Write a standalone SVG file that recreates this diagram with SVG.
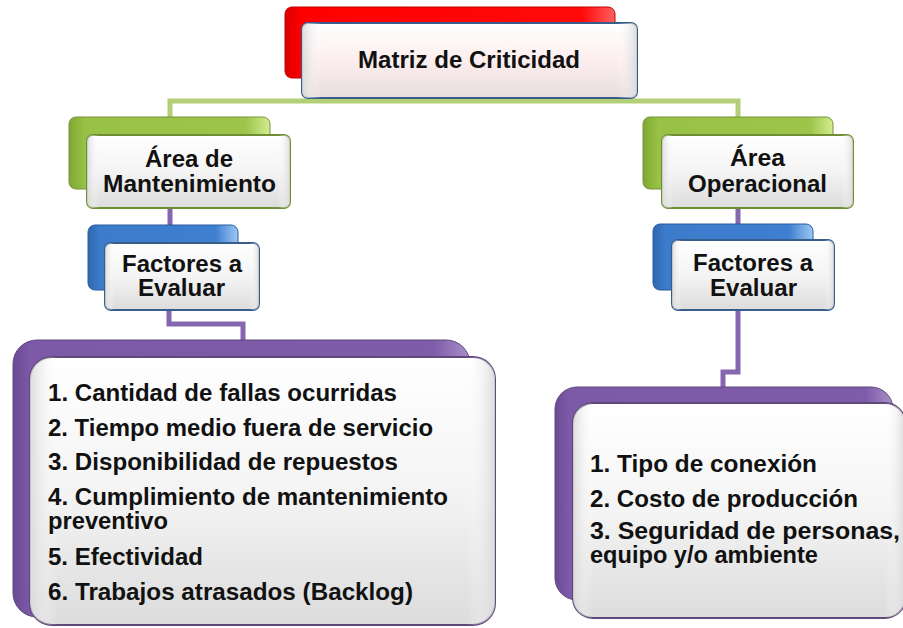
<svg xmlns="http://www.w3.org/2000/svg" width="903" height="628" viewBox="0 0 903 628">
<defs>
<linearGradient id="gRed" x1="0" y1="0" x2="1" y2="0"><stop offset="0" stop-color="#d90000"/><stop offset="0.05" stop-color="#ff0000"/><stop offset="0.9" stop-color="#ff0a0a"/><stop offset="1" stop-color="#ff6060"/></linearGradient>
<linearGradient id="gGreen" x1="0" y1="0" x2="1" y2="0"><stop offset="0" stop-color="#7fa832"/><stop offset="0.08" stop-color="#98c246"/><stop offset="0.88" stop-color="#9cc54a"/><stop offset="1" stop-color="#d4ec90"/></linearGradient>
<linearGradient id="gBlue" x1="0" y1="0" x2="1" y2="0"><stop offset="0" stop-color="#2f67b0"/><stop offset="0.08" stop-color="#3d7bcb"/><stop offset="0.85" stop-color="#3f7fd0"/><stop offset="1" stop-color="#9cc8f2"/></linearGradient>
<linearGradient id="gPurple" x1="0" y1="0" x2="1" y2="0"><stop offset="0" stop-color="#6a4a94"/><stop offset="0.04" stop-color="#7d5aa8"/><stop offset="0.92" stop-color="#7f5ca9"/><stop offset="1" stop-color="#a890c8"/></linearGradient>
<linearGradient id="gFace" x1="0" y1="0" x2="0" y2="1"><stop offset="0" stop-color="#ffffff"/><stop offset="0.5" stop-color="#f4f4f4"/><stop offset="1" stop-color="#dcdcdc"/></linearGradient>
<linearGradient id="gFaceSide" x1="0" y1="0" x2="1" y2="0"><stop offset="0" stop-color="#d8d8d8" stop-opacity="0.9"/><stop offset="0.06" stop-color="#ffffff" stop-opacity="0"/><stop offset="0.94" stop-color="#ffffff" stop-opacity="0"/><stop offset="1" stop-color="#d8d8d8" stop-opacity="0.9"/></linearGradient>
<linearGradient id="gPink" x1="0" y1="0" x2="0" y2="1"><stop offset="0" stop-color="#ffffff"/><stop offset="0.5" stop-color="#fdeeee"/><stop offset="1" stop-color="#e8dcdc"/></linearGradient>
</defs>
<style>
.t{font-family:"Liberation Sans",Arial,sans-serif;font-weight:bold;fill:#111;}
.c{font-size:23px;}
.l{font-size:23px;}
.conG{fill:none;stroke:#b3cf78;stroke-width:5;}
.conP{fill:none;stroke:#8467ae;stroke-width:5;}
</style>

<g id="connectors">
<path class="conG" d="M450 96 V103 M170 118 V101 H738 V118"/>
<path class="conP" d="M170 208 V226"/>
<path class="conP" d="M169 310 V324 H243 V341"/>
<path class="conP" d="M738 208 V225"/>
<path class="conP" d="M738 310 V372 H723 V388"/>
</g>

<g id="node-matriz">
<rect x="285" y="7" width="330" height="71" rx="7" fill="url(#gRed)" stroke="#c00000" stroke-width="1"/>
<rect x="302" y="23" width="335" height="75" rx="6" fill="url(#gPink)" stroke="#385d8a" stroke-width="2"/>
<rect x="302" y="23" width="335" height="75" rx="6" fill="url(#gFaceSide)"/>
<text class="t c" x="358" y="68" textLength="222" lengthAdjust="spacingAndGlyphs">Matriz de Criticidad</text>
</g>

<g id="node-area-mant">
<rect x="69" y="117" width="201" height="72" rx="7" fill="url(#gGreen)" stroke="#76923c" stroke-width="1"/>
<rect x="87" y="135" width="203" height="73" rx="6" fill="url(#gFace)" stroke="#6f8e34" stroke-width="2"/>
<rect x="87" y="135" width="203" height="73" rx="6" fill="url(#gFaceSide)"/>
<text class="t c" x="145" y="167" textLength="88" lengthAdjust="spacingAndGlyphs">Área de</text>
<text class="t c" x="103" y="192" textLength="173" lengthAdjust="spacingAndGlyphs">Mantenimiento</text>
</g>

<g id="node-area-oper">
<rect x="643" y="117" width="190" height="72" rx="7" fill="url(#gGreen)" stroke="#76923c" stroke-width="1"/>
<rect x="662" y="135" width="191" height="73" rx="6" fill="url(#gFace)" stroke="#6f8e34" stroke-width="2"/>
<rect x="662" y="135" width="191" height="73" rx="6" fill="url(#gFaceSide)"/>
<text class="t c" x="730" y="166" textLength="55" lengthAdjust="spacingAndGlyphs">Área</text>
<text class="t c" x="688" y="192" textLength="139" lengthAdjust="spacingAndGlyphs">Operacional</text>
</g>

<g id="node-factores-mant">
<rect x="88" y="225" width="150" height="65" rx="7" fill="url(#gBlue)" stroke="#2c5d9c" stroke-width="1"/>
<rect x="105" y="243" width="154" height="67" rx="6" fill="url(#gFace)" stroke="#385d8a" stroke-width="2"/>
<rect x="105" y="243" width="154" height="67" rx="6" fill="url(#gFaceSide)"/>
<text class="t c" x="122" y="272" textLength="120" lengthAdjust="spacingAndGlyphs">Factores a</text>
<text class="t c" x="138" y="296" textLength="87" lengthAdjust="spacingAndGlyphs">Evaluar</text>
</g>

<g id="node-factores-oper">
<rect x="653" y="224" width="160" height="66" rx="7" fill="url(#gBlue)" stroke="#2c5d9c" stroke-width="1"/>
<rect x="672" y="240" width="162" height="70" rx="6" fill="url(#gFace)" stroke="#385d8a" stroke-width="2"/>
<rect x="672" y="240" width="162" height="70" rx="6" fill="url(#gFaceSide)"/>
<text class="t c" x="693" y="271" textLength="120" lengthAdjust="spacingAndGlyphs">Factores a</text>
<text class="t c" x="710" y="296" textLength="87" lengthAdjust="spacingAndGlyphs">Evaluar</text>
</g>

<g id="node-lista-mant">
<rect x="13" y="340" width="457" height="277" rx="24" fill="url(#gPurple)" stroke="#5f497a" stroke-width="1"/>
<rect x="30" y="357" width="465" height="268" rx="22" fill="url(#gFace)" stroke="#5f497a" stroke-width="2"/>
<rect x="30" y="357" width="465" height="268" rx="22" fill="url(#gFaceSide)"/>
<text class="t l" x="48" y="401" textLength="349" lengthAdjust="spacingAndGlyphs">1. Cantidad de fallas ocurridas</text>
<text class="t l" x="48" y="436" textLength="385" lengthAdjust="spacingAndGlyphs">2. Tiempo medio fuera de servicio</text>
<text class="t l" x="48" y="470" textLength="350" lengthAdjust="spacingAndGlyphs">3. Disponibilidad de repuestos</text>
<text class="t l" x="48" y="505" textLength="400" lengthAdjust="spacingAndGlyphs">4. Cumplimiento de mantenimiento</text>
<text class="t l" x="48" y="529" textLength="120" lengthAdjust="spacingAndGlyphs">preventivo</text>
<text class="t l" x="48" y="565" textLength="155" lengthAdjust="spacingAndGlyphs">5. Efectividad</text>
<text class="t l" x="48" y="600" textLength="365" lengthAdjust="spacingAndGlyphs">6. Trabajos atrasados (Backlog)</text>
</g>

<g id="node-lista-oper">
<rect x="555" y="387" width="338" height="213" rx="22" fill="url(#gPurple)" stroke="#5f497a" stroke-width="1"/>
<rect x="573" y="403" width="332" height="215" rx="20" fill="url(#gFace)" stroke="#5f497a" stroke-width="2"/>
<rect x="573" y="403" width="332" height="215" rx="20" fill="url(#gFaceSide)"/>
<text class="t l" x="590" y="472" textLength="227" lengthAdjust="spacingAndGlyphs">1. Tipo de conexión</text>
<text class="t l" x="590" y="507" textLength="268" lengthAdjust="spacingAndGlyphs">2. Costo de producción</text>
<text class="t l" x="590" y="539" textLength="310" lengthAdjust="spacingAndGlyphs">3. Seguridad de personas,</text>
<text class="t l" x="590" y="563" textLength="228" lengthAdjust="spacingAndGlyphs">equipo y/o ambiente</text>
</g>
</svg>
